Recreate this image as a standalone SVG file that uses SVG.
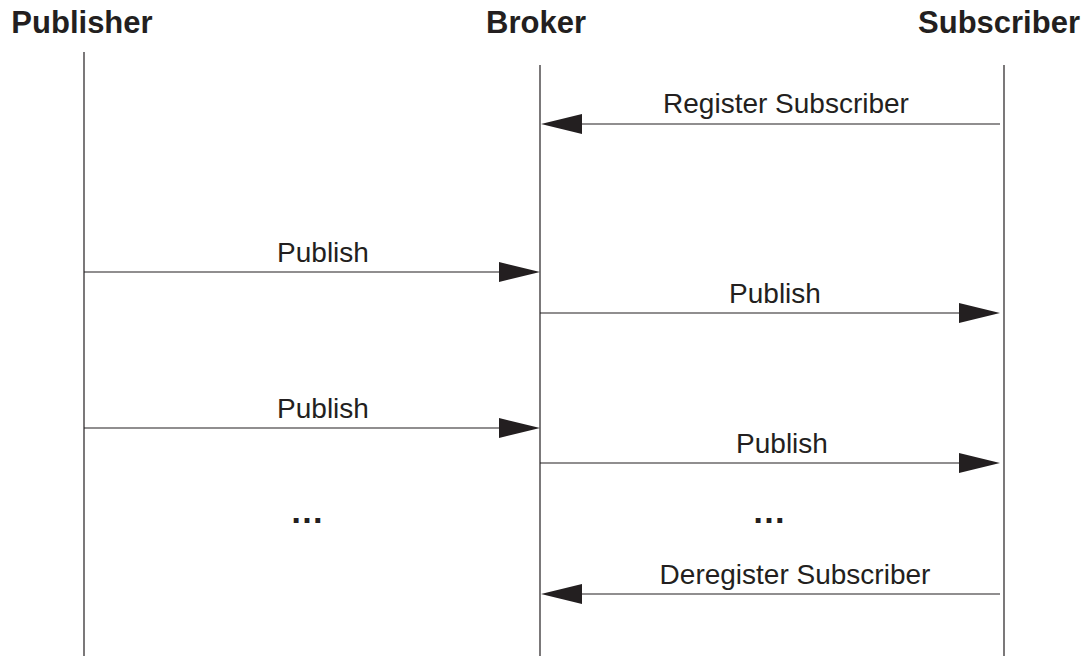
<svg xmlns="http://www.w3.org/2000/svg" width="1087" height="656" viewBox="0 0 1087 656">
<style>
.title{font-family:"Liberation Sans",Arial,sans-serif;font-weight:bold;font-size:31px;fill:#231f20;text-anchor:middle}
.lbl{font-family:"Liberation Sans",Arial,sans-serif;font-size:28px;fill:#231f20;text-anchor:middle}
.dots{font-family:"Liberation Sans",Arial,sans-serif;font-weight:bold;font-size:34px;fill:#231f20;text-anchor:middle}
.life{stroke:#231f20;stroke-width:1.2;fill:none}
.msg{stroke:#231f20;stroke-width:1.2;fill:none}
.head{fill:#231f20}
</style>
<rect width="1087" height="656" fill="#fff"/>
<g id="publisher">
<text class="title" x="82" y="33">Publisher</text>
<line class="life" x1="84" y1="52" x2="84" y2="656"/>
</g>
<g id="broker">
<text class="title" x="536" y="33">Broker</text>
<line class="life" x1="540" y1="65" x2="540" y2="656"/>
</g>
<g id="subscriber">
<text class="title" x="999" y="33">Subscriber</text>
<line class="life" x1="1004" y1="65" x2="1004" y2="656"/>
</g>
<g id="connectors">
<line class="msg" x1="1000" y1="124" x2="580" y2="124"/>
<polygon class="head" points="541,124 582,114 582,134"/>
<text class="lbl" x="786" y="113">Register Subscriber</text>

<line class="msg" x1="84" y1="272" x2="502" y2="272"/>
<polygon class="head" points="540,272 499,262 499,282"/>
<text class="lbl" x="323" y="262">Publish</text>

<line class="msg" x1="540" y1="313" x2="962" y2="313"/>
<polygon class="head" points="1000,313 959,303 959,323"/>
<text class="lbl" x="775" y="303">Publish</text>

<line class="msg" x1="84" y1="428" x2="502" y2="428"/>
<polygon class="head" points="540,428 499,418 499,438"/>
<text class="lbl" x="323" y="418">Publish</text>

<line class="msg" x1="540" y1="463" x2="962" y2="463"/>
<polygon class="head" points="1000,463 959,453 959,473"/>
<text class="lbl" x="782" y="453">Publish</text>

<text class="dots" x="307" y="523">…</text>
<text class="dots" x="769" y="523">…</text>

<line class="msg" x1="1000" y1="594" x2="580" y2="594"/>
<polygon class="head" points="541,594 582,584 582,604"/>
<text class="lbl" x="795" y="584">Deregister Subscriber</text>
</g>
</svg>
